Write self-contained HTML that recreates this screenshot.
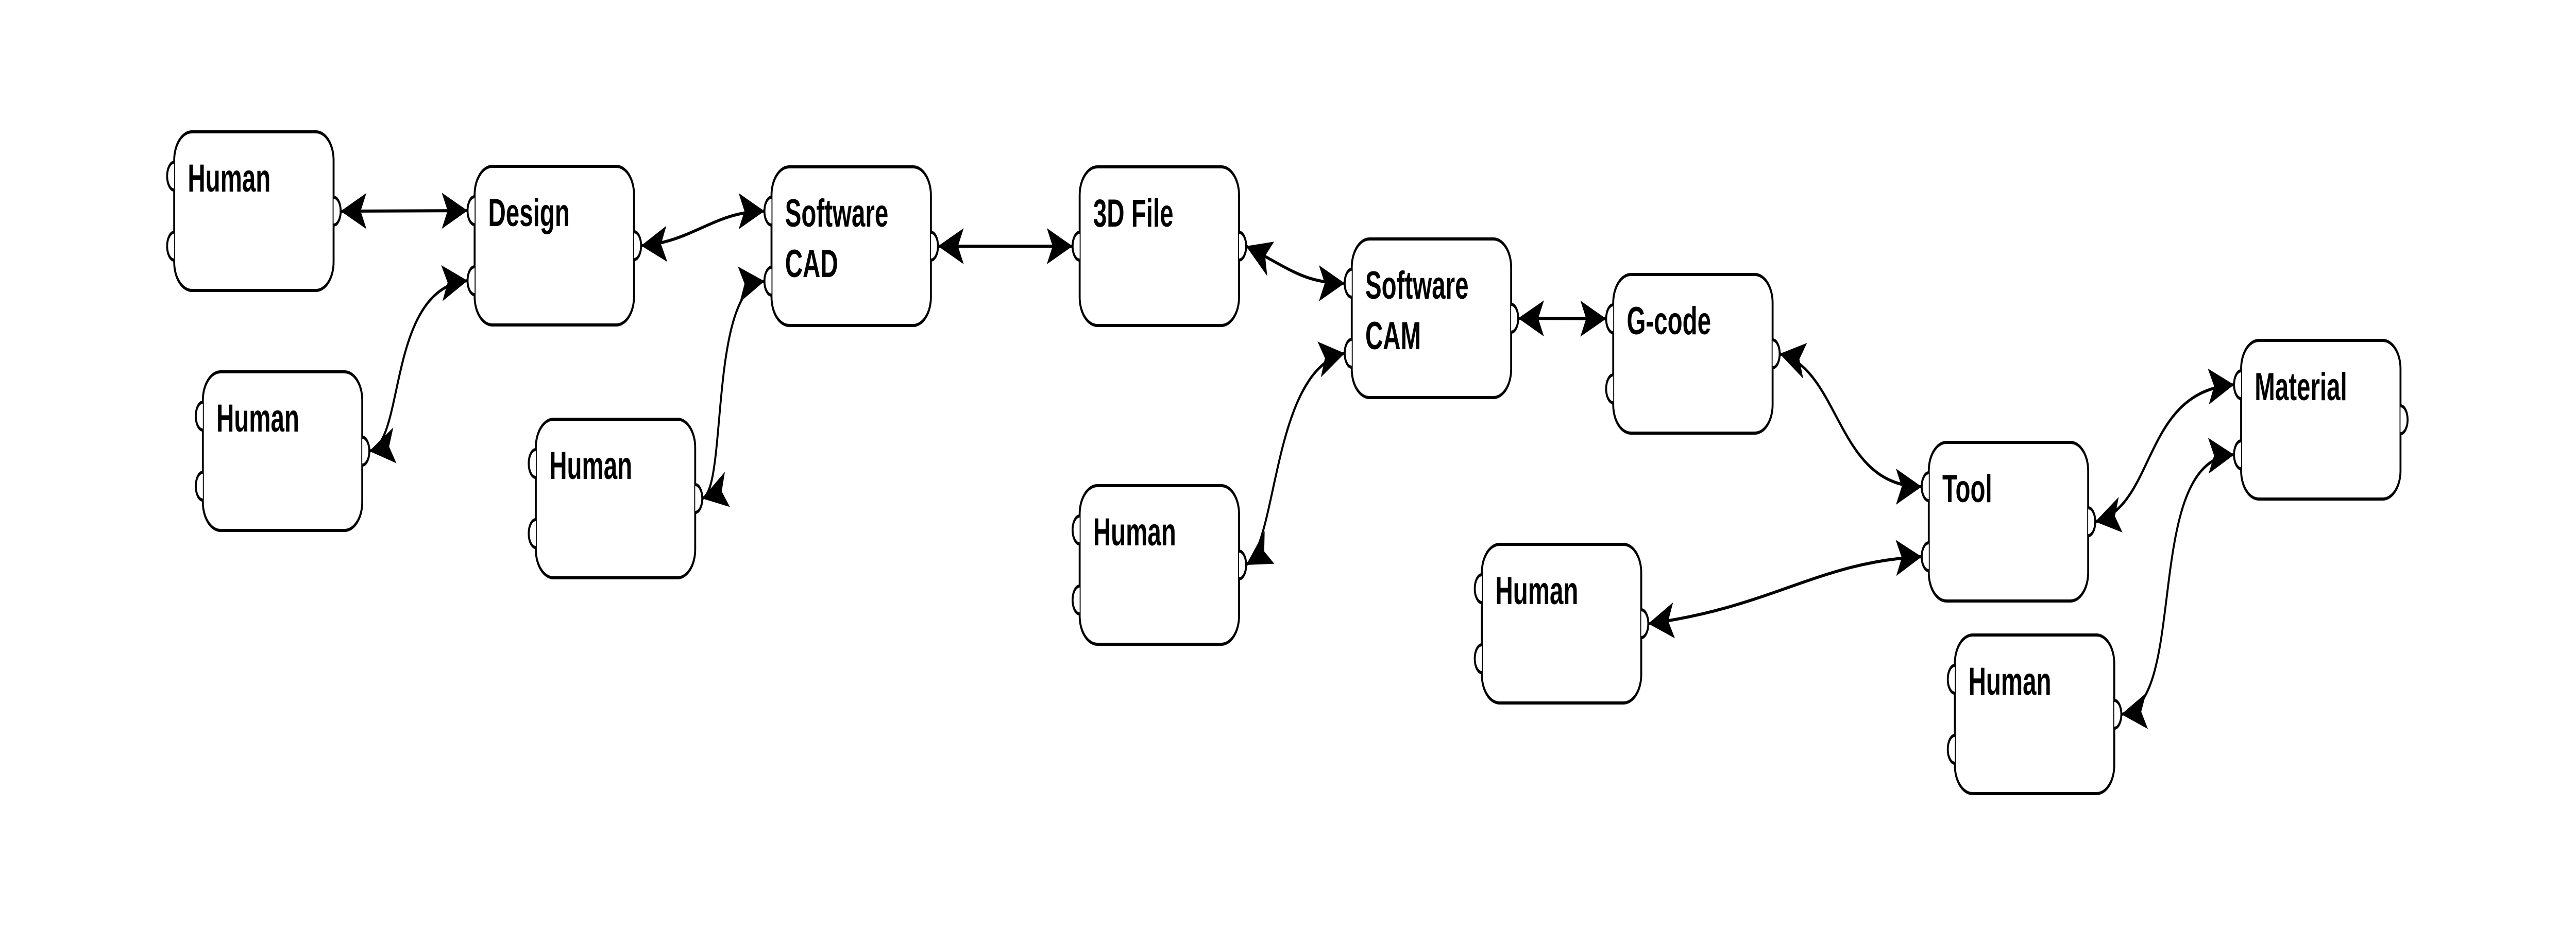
<!DOCTYPE html>
<html><head><meta charset="utf-8"><style>
html,body{margin:0;padding:0;background:#fff;overflow:hidden;width:100%;height:100%;}
svg{display:block;width:100vw;height:100vh;}
text{font-family:"Liberation Sans",sans-serif;font-weight:bold;font-size:76px;fill:#000;}
</style></head><body>
<svg viewBox="0 0 8000 1800" preserveAspectRatio="none" xmlns="http://www.w3.org/2000/svg">
<defs>
<marker id="a" markerUnits="userSpaceOnUse" markerWidth="100" markerHeight="90" viewBox="0 -45 100 90" refX="80" refY="0" orient="auto-start-reverse">
<path d="M80,0 L0,-35 L18,0 L0,35 Z" fill="#000"/>
</marker>
<g id="box">
<rect x="0" y="0" width="495" height="308" rx="55" ry="55" fill="#fff" stroke="#000" stroke-width="6"/>
</g>
<path id="pl" d="M0,-27 A22 27 0 0 0 0,27" fill="#fff" stroke="#000" stroke-width="6"/>
<path id="pr" d="M0,-27 A22 27 0 0 1 0,27" fill="#fff" stroke="#000" stroke-width="6"/>
<g id="n2"><use href="#box"/><use href="#pl" x="0" y="86"/><use href="#pl" x="0" y="222"/><use href="#pr" x="495" y="154"/></g>
<g id="n1"><use href="#box"/><use href="#pl" x="0" y="154"/><use href="#pr" x="495" y="154"/></g>
</defs>

<g fill="none" stroke="#000" stroke-width="6" marker-start="url(#a)" marker-end="url(#a)">
<path d="M1058,410 L1452,409"/>
<path d="M1147,876 C1260,860 1200,560 1452,545"/>
<path d="M1991,477 C2150,470 2220,410 2374,410"/>
<path d="M2181,968 C2260,950 2200,560 2374,546"/>
<path d="M2913,478 L3331,478"/>
<path d="M3870,478 C4000,520 4050,550 4176,550"/>
<path d="M3870,1097 C3970,1050 3950,720 4176,686"/>
<path d="M4715,618 L4988,619"/>
<path d="M5527,687 C5720,720 5700,945 5968,945"/>
<path d="M5119,1211 C5500,1180 5650,1090 5968,1081"/>
<path d="M6507,1013 C6700,980 6650,760 6938,747"/>
<path d="M6588,1387 C6800,1370 6650,890 6938,883"/>
</g>

<g transform="translate(541,256)"><use href="#n2"/><text x="42" y="116">Human</text></g>
<g transform="translate(1474,323)"><use href="#n2"/><text x="42" y="116">Design</text></g>
<g transform="translate(630,722)"><use href="#n2"/><text x="42" y="116">Human</text></g>
<g transform="translate(2396,324)"><use href="#n2"/><text x="42" y="116">Software</text><text x="42" y="214">CAD</text></g>
<g transform="translate(1664,814)"><use href="#n2"/><text x="42" y="116">Human</text></g>
<g transform="translate(3353,324)"><use href="#n1"/><text x="42" y="116">3D File</text></g>
<g transform="translate(4198,464)"><use href="#n2"/><text x="42" y="116">Software</text><text x="42" y="214">CAM</text></g>
<g transform="translate(3353,943)"><use href="#n2"/><text x="42" y="116">Human</text></g>
<g transform="translate(5010,533)"><use href="#n2"/><text x="42" y="116">G-code</text></g>
<g transform="translate(4602,1057)"><use href="#n2"/><text x="42" y="116">Human</text></g>
<g transform="translate(5990,859)"><use href="#n2"/><text x="42" y="116">Tool</text></g>
<g transform="translate(6960,661)"><use href="#n2"/><text x="42" y="116">Material</text></g>
<g transform="translate(6071,1233)"><use href="#n2"/><text x="42" y="116">Human</text></g>
</svg>
</body></html>
